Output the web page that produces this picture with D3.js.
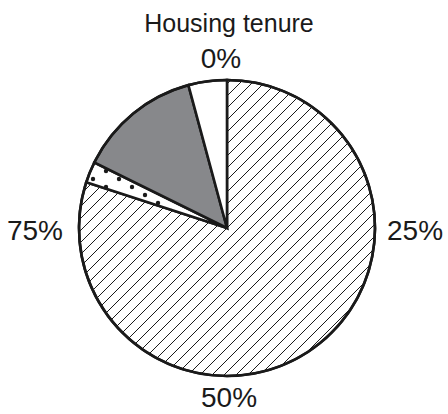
<!DOCTYPE html>
<html>
<head>
<meta charset="utf-8">
<script src="https://cdn.jsdelivr.net/npm/d3@7"></script>
<style>
  body { margin: 0; background: #fff; }
  text { font-family: "Liberation Sans", Arial, sans-serif; fill: #1a1a1a; }
</style>
</head>
<body>
<svg></svg>
<script>
const width = 448;
const height = 414;

// slices clockwise from 12 o'clock, percent of total
const categories = ["Owned", "Rented privately", "Rented socially", "Other"];
const shares = [80.0, 2.3, 13.5, 4.2];
const fills = ["url(#hatch)", "url(#dots)", "#87888b", "#ffffff"];
const tickValues = [0, 25, 50, 75];
const tickLabels = ["0%", "25%", "50%", "75%"];

const cx = 227, cy = 228, radius = 148;

const svg = d3.select("svg")
    .attr("width", width)
    .attr("height", height);

const defs = svg.append("defs");

const hatch = defs.append("pattern")
    .attr("id", "hatch")
    .attr("patternUnits", "userSpaceOnUse")
    .attr("width", 12)
    .attr("height", 12);
hatch.append("rect").attr("width", 12).attr("height", 12).attr("fill", "#fff");
hatch.append("path")
    .attr("d", "M-2,14 L14,-2 M-8,8 L8,-8 M4,20 L20,4")
    .attr("stroke", "#1a1a1a")
    .attr("stroke-width", 1);

const dots = defs.append("pattern")
    .attr("id", "dots")
    .attr("patternUnits", "userSpaceOnUse")
    .attr("width", 26)
    .attr("height", 16)
    .attr("x", 5)
    .attr("y", 3);
dots.append("rect").attr("width", 26).attr("height", 16).attr("fill", "#fff");
dots.append("circle").attr("cx", 4).attr("cy", 4).attr("r", 2.2).attr("fill", "#1a1a1a");
dots.append("circle").attr("cx", 17).attr("cy", 12).attr("r", 2.2).attr("fill", "#1a1a1a");

svg.append("text")
    .attr("x", 229)
    .attr("y", 32)
    .attr("text-anchor", "middle")
    .attr("font-size", 25)
    .text("Housing tenure");

const pie = d3.pie().sort(null).value(d => d);
const arc = d3.arc().innerRadius(0).outerRadius(radius);

const g = svg.append("g").attr("transform", `translate(${cx},${cy})`);

g.selectAll("path.slice")
    .data(pie(shares))
    .enter().append("path")
    .attr("class", "slice")
    .attr("d", arc)
    .attr("fill", (d, i) => fills[i])
    .attr("stroke", "#1a1a1a")
    .attr("stroke-width", 2.6)
    .attr("stroke-linejoin", "miter");

g.append("circle")
    .attr("r", radius)
    .attr("fill", "none")
    .attr("stroke", "#1a1a1a")
    .attr("stroke-width", 2.6);

// percentage ticks around the pie
const angle = d3.scaleLinear().domain([0, 100]).range([0, 2 * Math.PI]);
const labelPos = [
    { r: 160, anchor: "middle", dx: -6, dy: 0 },
    { r: 160, anchor: "start", dx: 0, dy: 12 },
    { r: 159, anchor: "middle", dx: 2, dy: 20 },
    { r: 164, anchor: "end", dx: 0, dy: 12 }
];

g.selectAll("text.tick")
    .data(tickValues)
    .enter().append("text")
    .attr("class", "tick")
    .attr("font-size", 28)
    .attr("text-anchor", (d, i) => labelPos[i].anchor)
    .attr("x", (d, i) => d3.pointRadial(angle(d), labelPos[i].r)[0] + labelPos[i].dx)
    .attr("y", (d, i) => d3.pointRadial(angle(d), labelPos[i].r)[1] + labelPos[i].dy)
    .text((d, i) => tickLabels[i]);
</script>
</body>
</html>
